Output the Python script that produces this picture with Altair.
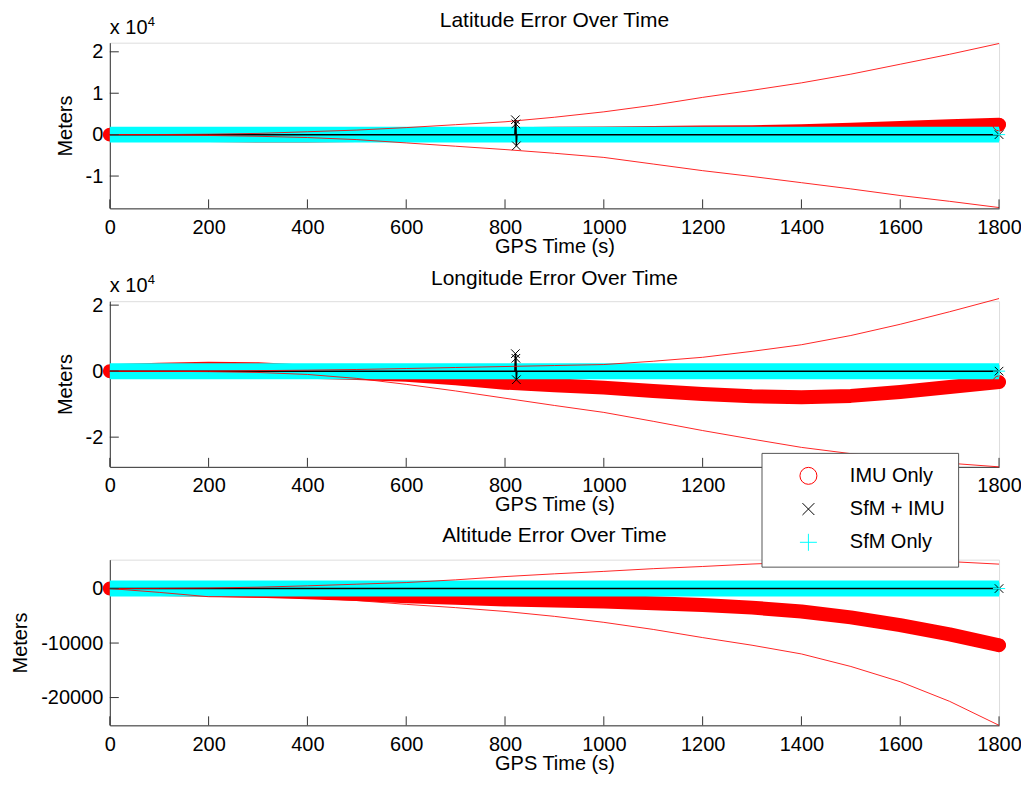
import altair as alt
import pandas as pd

# ---------------- data ----------------
TIME = [0, 100, 200, 300, 400, 500, 600, 700, 800, 900, 1000,
        1100, 1200, 1300, 1400, 1500, 1600, 1700, 1800]
XTICKS = [0, 200, 400, 600, 800, 1000, 1200, 1400, 1600, 1800]

SERIES = ["IMU Only", "SfM + IMU", "SfM Only"]

# Latitude
LAT_IMU = [0, 0, -100, -200, -200, -100, 0, 0, 100, 200, 300, 400, 500, 600, 800, 1200, 1600, 2000, 2400]
LAT_UPPER = [0, 20, 100, 300, 700, 1100, 1700, 2400, 3100, 4200, 5500, 7100, 9000, 10700, 12500, 14600, 17000, 19400, 22000]
LAT_LOWER = [0, -50, -200, -400, -700, -1200, -2000, -2800, -3600, -4500, -5500, -7100, -8700, -10100, -11600, -13100, -14700, -16100, -17600]
LAT_SFM = [0, 0, 0, 0, 0, 0, 0, 0, 0, 0, 0, 0, 0, 0, 0, 0, 0, 0, 0]

# Longitude
LON_IMU = [0, 400, 700, 600, -200, -600, -1100, -2200, -3500, -4300, -5000, -6000, -6900, -7600, -7900, -7500, -6300, -4800, -3300]
LON_UPPER = [0, 0, 50, 150, 300, 500, 800, 1100, 1400, 1700, 2000, 3000, 4200, 6000, 8000, 10800, 14200, 18000, 22000]
LON_LOWER = [0, -50, -150, -400, -1000, -2200, -4000, -6000, -8200, -10400, -12500, -15200, -18000, -20600, -23100, -25000, -26600, -27900, -29000]
LON_SFM = [0, 0, 0, 0, 0, 0, 0, 0, 0, 0, 0, 0, 0, 0, 0, 0, 0, 0, 0]

# Altitude
ALT_IMU = [0, -100, -200, -400, -700, -1000, -1400, -1700, -2000, -2200, -2400, -2700, -3000, -3500, -4200, -5300, -6700, -8400, -10400]
ALT_UPPER = [0, 30, 100, 250, 500, 800, 1100, 1600, 2200, 2700, 3150, 3650, 4050, 4500, 4850, 5100, 5200, 4950, 4480]
ALT_LOWER = [0, -700, -1500, -1600, -1700, -2200, -2900, -3500, -4200, -5100, -6200, -7500, -9000, -10400, -12000, -14300, -17100, -20700, -25100]
ALT_SFM = [0, 0, 0, 0, 0, 0, 0, 0, 0, 0, 0, 0, 0, 0, 0, 0, 0, 0, 0]

# SfM + IMU (black) track, with the jump near t = 822 s
BL_T = [0, 400, 820, 821, 822, 823, 824, 1200, 1800]
LAT_BL = [0, 0, 0, 3600, 2600, -2700, 0, 0, 0]
LON_BL = [0, 0, 0, 5300, 3900, -2600, 0, 0, 0]
ALT_BL = [0, 0, 0, 0, 0, 0, 0, 0, 0]

# marker points (end markers and the x markers of the jump)
LAT_MARK_T = [1800, 821, 822, 823, 1800, 1800]
LAT_MARK_V = [2400, 3600, 2600, -2700, 0, 0]
LON_MARK_T = [1800, 821, 822, 823, 1800, 1800]
LON_MARK_V = [-3300, 5300, 3900, -2600, 0, 0]
ALT_MARK_T = [1800, 1800, 1800]
ALT_MARK_V = [-10400, 0, 0]
MARK_S6 = ["IMU Only", "SfM + IMU", "SfM + IMU", "SfM + IMU", "SfM + IMU", "SfM Only"]
MARK_S3 = ["IMU Only", "SfM + IMU", "SfM Only"]

# ---------------- style ----------------
F = "Liberation Sans"
FS = 20
TFS = 21
AXC = "#333333"
W, H = 891, 166
COLORS = ["#ff0000", "#000000", "#00ffff"]
SHAPES = ["circle", "M-0.7,-0.7L0.7,0.7M-0.7,0.7L0.7,-0.7", "M-1,0L1,0M0,-1L0,1"]

XS = alt.Scale(domain=[0, 1800], nice=False, zero=False)
X_AX = alt.Axis(values=XTICKS, title="GPS Time (s)", grid=False, ticks=False, tickSize=0,
                labelPadding=9, titlePadding=-1, domainColor=AXC, labelFont=F, labelFontSize=FS,
                titleFont=F, titleFontSize=FS, titleFontWeight="normal", labelColor="black",
                titleColor="black", labelFlush=False, labelOverlap=False,
                labelExpr="'' + datum.value")

LEG = alt.Legend(title=None, orient="none", legendX=653, legendY=411, padding=13, rowPadding=12.3,
                 symbolOffset=24, labelOffset=31.5, labelFont=F, labelFontSize=FS, labelColor="black",
                 strokeColor="#555555", fillColor="white", symbolSize=289, symbolStrokeWidth=1,
                 symbolFillColor="transparent")


def df(ts, vs):
    return pd.DataFrame({"t": ts, "v": vs})


def panel(title, imu, upper, lower, sfm, bl, mt, mv, ms, dom, yticks, sci):
    ys = alt.Scale(domain=dom, nice=False, zero=False)
    if sci:
        lexpr = "datum.value < 0 ? '-' + abs(datum.value) / 10000 : '' + datum.value / 10000"
    else:
        lexpr = "datum.value < 0 ? '-' + abs(datum.value) : '' + datum.value"
    y_ax = alt.Axis(values=yticks, title="Meters", grid=False, ticks=False, tickSize=0,
                    labelPadding=7, titlePadding=10, domainColor=AXC, labelFont=F,
                    labelFontSize=FS, titleFont=F, titleFontSize=FS, titleFontWeight="normal",
                    labelColor="black", titleColor="black", labelExpr=lexpr,
                    labelFlush=False, labelOverlap=False)
    X = alt.X("t:Q", scale=XS, axis=X_AX)
    Y = alt.Y("v:Q", scale=ys, axis=y_ax)

    imu_l = alt.Chart(df(TIME, imu)).mark_line(color="#ff0000", strokeWidth=14, strokeCap="round",
                                               strokeJoin="round").encode(x=X, y=Y)
    sfm_l = alt.Chart(df(TIME, sfm)).mark_line(color="#00ffff", strokeWidth=16, strokeCap="butt").encode(x=X, y=Y)
    bl_l = alt.Chart(df(BL_T, bl)).mark_line(color="black", strokeWidth=1.5).encode(x=X, y=Y)
    up_l = alt.Chart(df(TIME, upper)).mark_line(color="#ff0000", strokeWidth=1, opacity=0.85).encode(x=X, y=Y)
    lo_l = alt.Chart(df(TIME, lower)).mark_line(color="#ff0000", strokeWidth=1, opacity=0.85).encode(x=X, y=Y)
    marks = alt.Chart(pd.DataFrame({"t": mt, "v": mv, "s": ms})).mark_point(
        filled=False, strokeWidth=1, size=150, opacity=1).encode(
        x=X, y=Y,
        color=alt.Color("s:N", scale=alt.Scale(domain=SERIES, range=COLORS), legend=LEG),
        shape=alt.Shape("s:N", scale=alt.Scale(domain=SERIES, range=SHAPES), legend=LEG))
    xt = alt.Chart(pd.DataFrame({"t": XTICKS})).mark_rule(color=AXC, strokeWidth=1).encode(
        x=X, y=alt.value(H), y2=alt.value(H - 9))
    yt = alt.Chart(pd.DataFrame({"v": yticks})).mark_rule(color=AXC, strokeWidth=1).encode(
        y=Y, x=alt.value(0), x2=alt.value(9))
    layers = [imu_l, sfm_l, bl_l, up_l, lo_l, marks, xt, yt]
    if sci:
        t1 = alt.Chart(pd.DataFrame({"s": ["x 10"]})).mark_text(
            align="left", baseline="alphabetic", font=F, fontSize=FS, color="black").encode(
            text="s:N", x=alt.value(0), y=alt.value(-9))
        t2 = alt.Chart(pd.DataFrame({"s": ["4"]})).mark_text(
            align="left", baseline="alphabetic", font=F, fontSize=13, color="black").encode(
            text="s:N", x=alt.value(38), y=alt.value(-17))
        layers += [t1, t2]
        off = -15
    else:
        off = 11
    return alt.layer(*layers).properties(
        width=W, height=H,
        title=alt.TitleParams(title, font=F, fontSize=TFS, fontWeight="normal", anchor="middle",
                              color="black", offset=off))


p1 = panel("Latitude Error Over Time", LAT_IMU, LAT_UPPER, LAT_LOWER, LAT_SFM, LAT_BL,
           LAT_MARK_T, LAT_MARK_V, MARK_S6, [-17800, 22200], [-10000, 0, 10000, 20000], True)
p2 = panel("Longitude Error Over Time", LON_IMU, LON_UPPER, LON_LOWER, LON_SFM, LON_BL,
           LON_MARK_T, LON_MARK_V, MARK_S6, [-29000, 21200], [-20000, 0, 20000], True)
p3 = panel("Altitude Error Over Time", ALT_IMU, ALT_UPPER, ALT_LOWER, ALT_SFM, ALT_BL,
           ALT_MARK_T, ALT_MARK_V, MARK_S3, [-25100, 5300], [-20000, -10000, 0], False)

chart = alt.vconcat(p1, p2, p3, spacing=93, bounds="flush",
                    padding={"left": 2, "top": 0, "right": -11, "bottom": 0}).resolve_scale(
    color="shared", shape="shared").configure_view(stroke=None).configure(background="white")

chart.save("out.html", embed_options={"renderer": "svg", "actions": False})
